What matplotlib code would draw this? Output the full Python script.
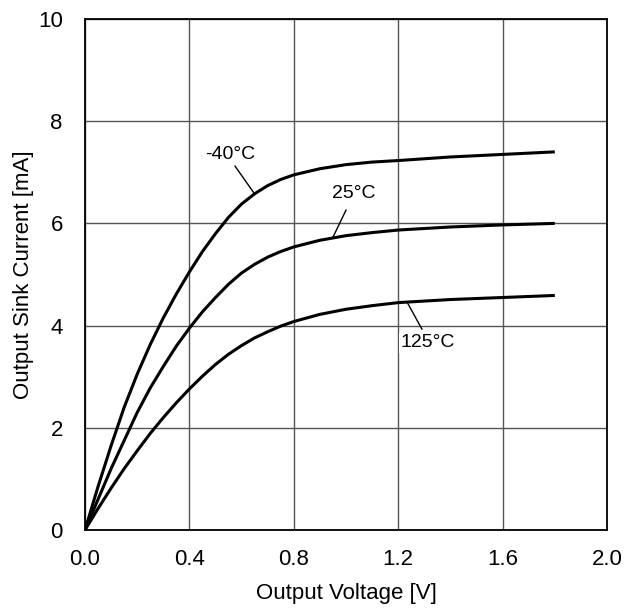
import matplotlib
matplotlib.use("Agg")
import matplotlib.pyplot as plt

voltage = [0, 0.05, 0.1, 0.15, 0.2, 0.25, 0.3, 0.35, 0.4, 0.45, 0.5, 0.55, 0.6,
           0.65, 0.7, 0.75, 0.8, 0.9, 1.0, 1.1, 1.2, 1.4, 1.6, 1.8]
i_m40 = [0, 0.85, 1.65, 2.4, 3.05, 3.63, 4.15, 4.62, 5.05, 5.45, 5.8, 6.12, 6.38,
         6.58, 6.74, 6.86, 6.95, 7.07, 7.15, 7.2, 7.23, 7.3, 7.35, 7.4]
i_25 = [0, 0.6, 1.2, 1.75, 2.3, 2.78, 3.2, 3.6, 3.95, 4.27, 4.55, 4.81, 5.03,
        5.2, 5.34, 5.45, 5.54, 5.67, 5.76, 5.82, 5.87, 5.93, 5.97, 6.0]
i_125 = [0, 0.42, 0.82, 1.2, 1.55, 1.89, 2.2, 2.49, 2.76, 3.01, 3.24, 3.44, 3.61,
         3.76, 3.88, 3.99, 4.08, 4.22, 4.32, 4.39, 4.45, 4.51, 4.55, 4.59]
labels = ["-40°C", "25°C", "125°C"]
x_ticks = [0.0, 0.4, 0.8, 1.2, 1.6, 2.0]
x_tick_labels = ["0.0", "0.4", "0.8", "1.2", "1.6", "2.0"]
y_ticks = [0, 2, 4, 6, 8, 10]

plt.rcParams['font.family'] = ['Liberation Sans', 'DejaVu Sans']

fig = plt.figure(figsize=(6.35, 6.12), dpi=100)
ax = fig.add_axes([85/635, 82/612, 522/635, 511/612])

for y in (i_m40, i_25, i_125):
    ax.plot(voltage, y, color='black', lw=2.2, solid_capstyle='butt',
            solid_joinstyle='round', zorder=3)

ax.set_xlim(0, 2.0)
ax.set_ylim(0, 10)
ax.set_xticks(x_ticks)
ax.set_xticklabels(x_tick_labels)
ax.set_yticks(y_ticks)
ax.tick_params(length=0, labelsize=16)
ax.tick_params(axis='y', pad=16)
ax.tick_params(axis='x', pad=14)
ax.grid(True, color='#555555', lw=1.0)
for s in ax.spines.values():
    s.set_linewidth(1.3)
    s.set_color('black')
    s.set_zorder(4)

ax.set_xlabel("Output Voltage [V]", fontsize=16, labelpad=9)
ax.set_ylabel("Output Sink Current [mA]", fontsize=16, labelpad=3)

# annotations: (text pos, leader start, leader end)
ann = [((0.556, 7.34), (0.575, 7.12), (0.648, 6.59)),
       ((1.031, 6.59), (1.0, 6.26), (0.95, 5.73)),
       ((1.314, 3.66), (1.234, 4.46), (1.291, 3.93))]
for lab, (tp, a, b) in zip(labels, ann):
    ax.text(tp[0], tp[1], lab, fontsize=14, ha='center', va='center',
            bbox=dict(facecolor='white', edgecolor='none', pad=1), zorder=5)
    ax.plot([a[0], b[0]], [a[1], b[1]], color='black', lw=1.0, zorder=5)

fig.savefig("out.png", dpi=100)
